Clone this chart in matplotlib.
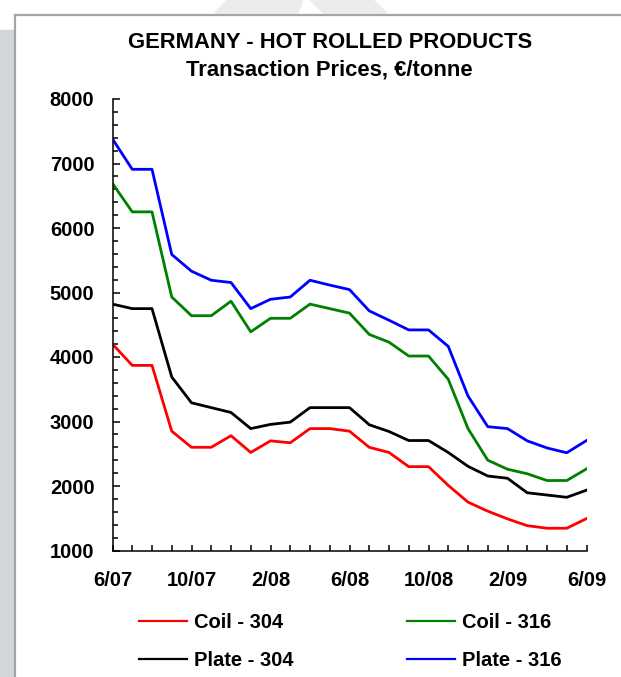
import numpy as np
import matplotlib
matplotlib.use("Agg")
from matplotlib import pyplot as plt
from matplotlib.ticker import MultipleLocator
from matplotlib.patches import Rectangle, Polygon
from matplotlib.lines import Line2D

plt.rcParams['font.family'] = ['Liberation Sans', 'DejaVu Sans']
plt.rcParams['font.weight'] = 'bold'

# monthly, 6/07 .. 6/09
tick_labels = ["6/07", "10/07", "2/08", "6/08", "10/08", "2/09", "6/09"]

coil_304 = [4200, 3870, 3870, 2850, 2600, 2600, 2780, 2520, 2700, 2670, 2890, 2890, 2850,
            2600, 2520, 2300, 2300, 2010, 1750, 1610, 1490, 1385, 1345, 1345, 1495]
coil_316 = [6690, 6250, 6250, 4930, 4640, 4640, 4865, 4390, 4600, 4600, 4820, 4750, 4680,
            4350, 4230, 4015, 4015, 3655, 2890, 2400, 2260, 2190, 2085, 2085, 2265]
plate_304 = [4820, 4750, 4750, 3690, 3290, 3215, 3140, 2890, 2955, 2990, 3215, 3215, 3215,
             2950, 2845, 2705, 2705, 2520, 2305, 2155, 2120, 1895, 1860, 1825, 1935]
plate_316 = [7380, 6910, 6910, 5590, 5330, 5190, 5155, 4750, 4895, 4930, 5190, 5115, 5045,
             4715, 4570, 4420, 4420, 4165, 3395, 2920, 2890, 2700, 2590, 2515, 2705]

W, H = 621, 677
FS = 14.5
fig = plt.figure(figsize=(W / 100, H / 100), dpi=100)


def px(pts):
    # pixel coords (from top-left) -> figure fraction
    return [(a / W, (H - b) / H) for a, b in pts]


# page decoration: faint watermark, gray band at left and frame line
for shape in ([(215, 13), (227, 0), (303, 0), (298, 13)],
              [(310, 0), (373, 0), (387, 13), (323, 13)]):
    fig.patches.append(Polygon(px(shape), closed=True, transform=fig.transFigure,
                               color="#ececec", zorder=0))
fig.patches.append(Rectangle((0, 0), 14 / W, (H - 30) / H, transform=fig.transFigure,
                             color="#d4d5d7", zorder=0))
fig.lines.append(Line2D([15 / W, 15 / W], [0, (H - 15) / H], transform=fig.transFigure,
                        color="#a2a5a9", lw=1.6))
fig.lines.append(Line2D([15 / W, 1], [(H - 15) / H, (H - 15) / H], transform=fig.transFigure,
                        color="#a2a5a9", lw=1.6))

ax = fig.add_axes([112.5 / W, 126.5 / H, 474 / W, 451.5 / H])
x = np.arange(len(coil_304))

ax.plot(x, coil_304, color="#ff0000", lw=2, label="Coil - 304")
ax.plot(x, plate_304, color="#000000", lw=2, label="Plate - 304")
ax.plot(x, coil_316, color="#008000", lw=2, label="Coil - 316")
ax.plot(x, plate_316, color="#0000ff", lw=2, label="Plate - 316")

ax.set_xlim(0, 24)
ax.set_ylim(1000, 8000)
ax.set_xticks(np.arange(0, 25, 4))
ax.set_xticklabels(tick_labels)
ax.xaxis.set_minor_locator(MultipleLocator(1))
ax.yaxis.set_major_locator(MultipleLocator(1000))
ax.yaxis.set_minor_locator(MultipleLocator(200))

for s in ["top", "right"]:
    ax.spines[s].set_visible(False)
for s in ["left", "bottom"]:
    ax.spines[s].set_linewidth(1.1)

ax.tick_params(axis="x", which="both", direction="in", length=4, width=1.1, pad=15,
               labelsize=FS)
ax.tick_params(axis="y", which="major", direction="in", length=5, width=1.1, pad=13,
               labelsize=FS)
ax.tick_params(axis="y", which="minor", direction="in", length=3.5, width=1.1)
for lab in ax.get_xticklabels() + ax.get_yticklabels():
    lab.set_fontweight("bold")

fig.text(0.531, (H - 43) / H, "GERMANY - HOT ROLLED PRODUCTS", ha="center", va="center",
         fontsize=FS + 1.3, fontweight="bold")
fig.text(0.531, (H - 70) / H, "Transaction Prices, €/tonne", ha="center", va="center",
         fontsize=FS + 1.3, fontweight="bold")

leg = fig.legend(loc="upper left", bbox_to_anchor=(139 / W, (H - 613) / H), ncol=2,
                 frameon=False, fontsize=FS, handlelength=2.4, handletextpad=0.35,
                 columnspacing=5.6, labelspacing=0.95, borderpad=0, borderaxespad=0)
for t in leg.get_texts():
    t.set_fontweight("bold")
for l in leg.get_lines():
    l.set_linewidth(1.6)

plt.savefig("out.png", dpi=100)
